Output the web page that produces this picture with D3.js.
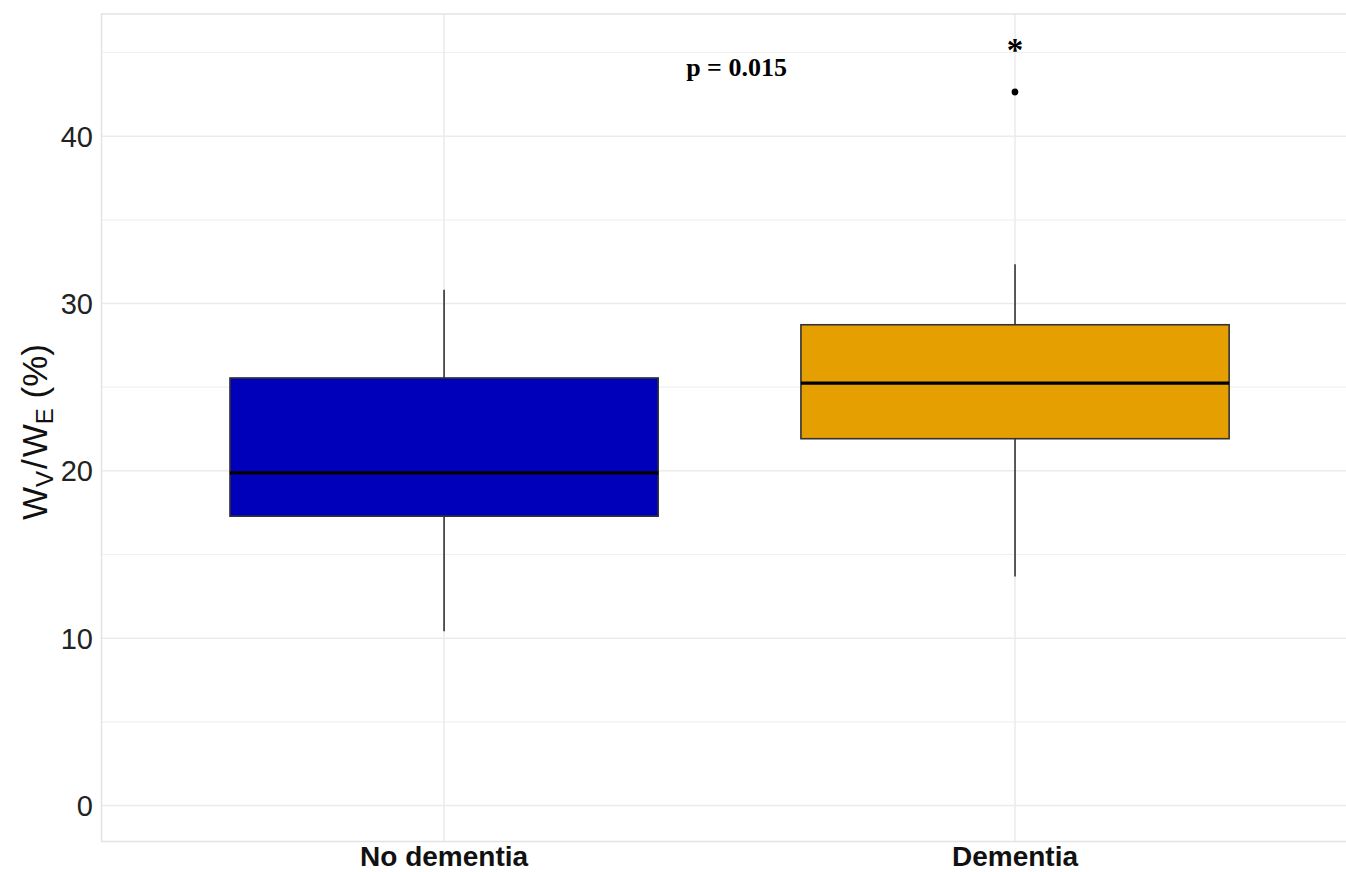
<!DOCTYPE html>
<html>
<head>
<meta charset="utf-8">
<script src="https://cdn.jsdelivr.net/npm/d3@7"></script>
<style>
  html, body { margin: 0; padding: 0; background: #fff; }
  svg { display: block; }
</style>
</head>
<body>
<svg id="chart" width="1346" height="872"></svg>
<script>
// ---- data ----
const categories = ["No dementia", "Dementia"];
const whiskerLow  = [10.42, 13.69];
const q1          = [17.29, 21.92];
const median      = [19.88, 25.24];
const q3          = [25.55, 28.73];
const whiskerHigh = [30.82, 32.34];
const outliers    = [[], [42.64]];
const fills       = ["#0000BA", "#E69F00"];
const yTicks      = [0, 10, 20, 30, 40];
const yMinor      = [5, 15, 25, 35, 45];
const pLabel      = "p = 0.015";
const pLabelY     = 43.6;
const starY       = 44.5;

(function () {
// ---- layout ----
const W = 1346, H = 872;
const pLeft = 101.5, pTop = 14, pBottom = 841.5, pRight = 1357.6;

const svg = d3.select("#chart");

const x = d3.scalePoint().domain(categories).range([pLeft, pRight]).padding(0.6);
const step = x.step();
const y = d3.scaleLinear().domain([-2.15, 47.3]).range([pBottom, pTop]);

// grid
const g = svg.append("g");
g.selectAll("line.minor").data(yMinor).join("line")
  .attr("x1", pLeft).attr("x2", W).attr("y1", d => y(d)).attr("y2", d => y(d))
  .attr("stroke", "#f0f0f0").attr("stroke-width", 1.2);
g.selectAll("line.major").data(yTicks).join("line")
  .attr("x1", pLeft).attr("x2", W).attr("y1", d => y(d)).attr("y2", d => y(d))
  .attr("stroke", "#ebebeb").attr("stroke-width", 1.5);
g.selectAll("line.vmaj").data(categories).join("line")
  .attr("x1", d => x(d)).attr("x2", d => x(d)).attr("y1", pTop).attr("y2", pBottom)
  .attr("stroke", "#ebebeb").attr("stroke-width", 1.5);

// panel border (top, left, bottom)
svg.append("path")
  .attr("d", `M${W},${pTop}H${pLeft}V${pBottom}H${W}`)
  .attr("fill", "none").attr("stroke", "#e3e3e3").attr("stroke-width", 1.5);

// boxes
const bw = step * 0.75;
const data = categories.map((c, i) => ({c, i}));
const boxes = svg.append("g").selectAll("g").data(data).join("g");

boxes.append("line")
  .attr("x1", d => x(d.c)).attr("x2", d => x(d.c))
  .attr("y1", d => y(q3[d.i])).attr("y2", d => y(whiskerHigh[d.i]))
  .attr("stroke", "#333").attr("stroke-width", 1.6);
boxes.append("line")
  .attr("x1", d => x(d.c)).attr("x2", d => x(d.c))
  .attr("y1", d => y(q1[d.i])).attr("y2", d => y(whiskerLow[d.i]))
  .attr("stroke", "#333").attr("stroke-width", 1.6);
boxes.append("rect")
  .attr("x", d => x(d.c) - bw / 2).attr("width", bw)
  .attr("y", d => y(q3[d.i])).attr("height", d => y(q1[d.i]) - y(q3[d.i]))
  .attr("fill", d => fills[d.i]).attr("stroke", "#333").attr("stroke-width", 1.6);
boxes.append("line")
  .attr("x1", d => x(d.c) - bw / 2).attr("x2", d => x(d.c) + bw / 2)
  .attr("y1", d => y(median[d.i])).attr("y2", d => y(median[d.i]))
  .attr("stroke", "#000").attr("stroke-width", 3.2);
boxes.selectAll("circle").data(d => outliers[d.i].map(v => ({c: d.c, v}))).join("circle")
  .attr("cx", d => x(d.c)).attr("cy", d => y(d.v)).attr("r", 3.4).attr("fill", "#000");

// annotations
svg.append("text")
  .attr("x", (x(categories[0]) + x(categories[1])) / 2 + 7)
  .attr("y", y(pLabelY))
  .attr("text-anchor", "middle")
  .attr("font-family", "Liberation Serif, Times New Roman, serif")
  .attr("font-weight", "bold").attr("font-size", 26).attr("fill", "#000")
  .text(pLabel);
svg.append("text")
  .attr("x", x(categories[1]))
  .attr("y", y(starY))
  .attr("text-anchor", "middle")
  .attr("font-family", "Liberation Serif, Times New Roman, serif")
  .attr("font-weight", "bold").attr("font-size", 33).attr("fill", "#000")
  .text("*");

// y axis tick labels
svg.append("g").selectAll("text").data(yTicks).join("text")
  .attr("x", 93).attr("y", d => y(d)).attr("dy", "0.36em")
  .attr("text-anchor", "end")
  .attr("font-family", "Liberation Sans, Arial, sans-serif")
  .attr("font-size", 29).attr("fill", "#222")
  .text(d => d);

// x axis labels
svg.append("g").selectAll("text").data(categories).join("text")
  .attr("x", d => x(d)).attr("y", 866)
  .attr("text-anchor", "middle")
  .attr("font-family", "Liberation Sans, Arial, sans-serif")
  .attr("font-weight", "bold").attr("font-size", 28).attr("fill", "#111")
  .text(d => d);

// y axis title
const yt = svg.append("text")
  .attr("transform", "translate(47,432) rotate(-90)")
  .attr("text-anchor", "middle")
  .attr("font-family", "Liberation Sans, Arial, sans-serif")
  .attr("font-size", 35).attr("fill", "#111");
yt.append("tspan").text("W");
yt.append("tspan").attr("font-size", 24).attr("dy", 6).text("V");
yt.append("tspan").attr("dy", -6).attr("dx", 2).text("/");
yt.append("tspan").attr("dx", 2).text("W");
yt.append("tspan").attr("font-size", 24).attr("dy", 6).text("E");
yt.append("tspan").attr("dy", -6).text(" (%)");
})();
</script>
</body>
</html>
